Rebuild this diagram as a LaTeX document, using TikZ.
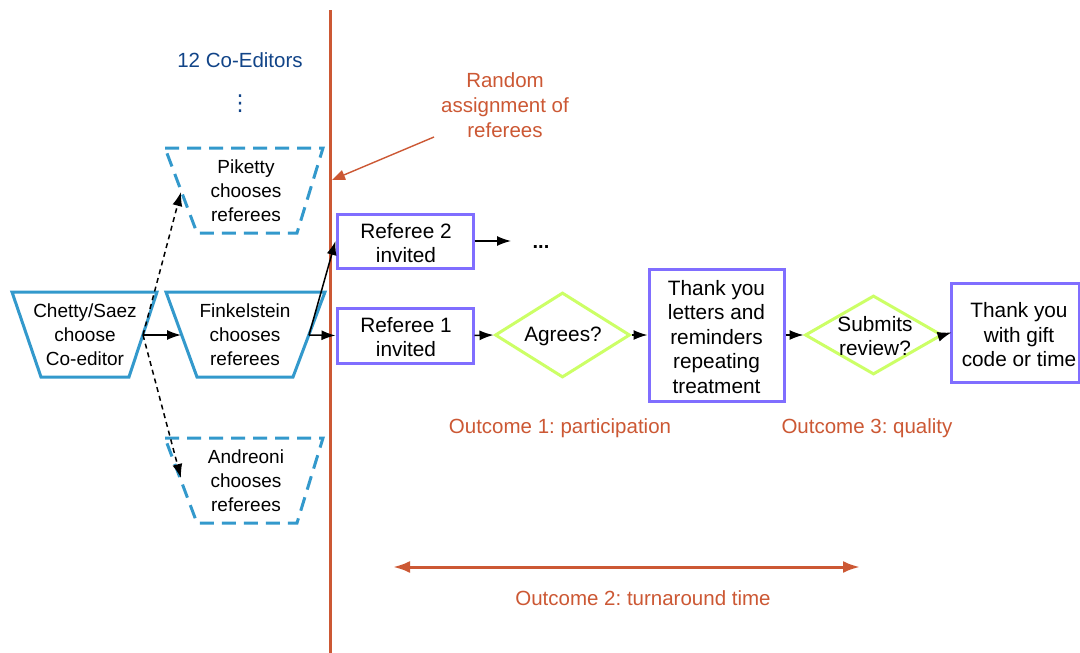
\documentclass[tikz,border=0pt]{standalone}
\usepackage{fontspec}
\setmainfont{Liberation Sans}
\newfontfamily\dejavu{DejaVu Sans}
\frenchspacing
\usetikzlibrary{arrows.meta,shapes.geometric}
\definecolor{tblue}{RGB}{51,153,204}
\definecolor{torange}{RGB}{204,88,52}
\definecolor{tpurple}{RGB}{128,110,255}
\definecolor{tgreen}{RGB}{204,255,102}
\definecolor{tdark}{RGB}{17,68,136}
\tikzset{
  blk/.style={font=\fontsize{19}{24}\selectfont, align=center, inner sep=0pt},
  big/.style={font=\fontsize{20.8}{24.5}\selectfont, align=center, inner sep=0pt},
  otxt/.style={font=\fontsize{20.5}{25}\selectfont, align=center, inner sep=0pt, text=torange},
  trap/.style={draw=tblue, line width=3pt, line join=miter},
  dtrap/.style={trap, dash pattern=on 14pt off 8pt},
  pbox/.style={draw=tpurple, line width=3pt, minimum width=136pt, inner sep=0pt, big},
  dia/.style={draw=tgreen, line width=3pt, diamond, inner sep=0pt, aspect=1},
  arr/.style={line width=1.5pt, -{Latex[length=14pt,width=10pt]}},
  darr/.style={arr, dash pattern=on 5pt off 4pt},
}
\begin{document}
\begin{tikzpicture}[x=1pt,y=-1pt]
\useasboundingbox[fill=white] (0,0) rectangle (1080,653);

% vertical line
\coordinate (vtop) at (330,10);
\coordinate (vbot) at (330,653);
\draw[torange, line width=3pt] (vtop) -- (vbot);

% top texts
\node[otxt, text=tdark] (coeds) at (240,60) {12 Co-Editors};
\node[text=tdark, inner sep=0pt, font=\dejavu\fontsize{22}{22}\selectfont] (vdots) at (240,104) {⋮};
\node[otxt] (random) at (505,105) {Random\\assignment of\\referees};
\coordinate (randA) at (434,137);
\coordinate (hit) at (332,180);
\draw[torange, line width=1.4pt, -{Triangle[length=13pt,width=10pt]}] (randA) -- (hit);

% trapezoids
\draw[trap] (12,292) -- (157,292) -- (129,377) -- (41,377) -- cycle;
\node[blk] (chetty) at (85,335) {Chetty/Saez\\choose\\Co-editor};
\draw[trap] (166,292) -- (325,292) -- (293,377) -- (197,377) -- cycle;
\node[blk] (fink) at (245,335) {Finkelstein\\chooses\\referees};
\draw[dtrap] (165,148) -- (323,148) -- (297,233) -- (197,233) -- cycle;
\node[blk] (piketty) at (246,191) {Piketty\\chooses\\referees};
\draw[dtrap] (165,438) -- (323,438) -- (297,523) -- (197,523) -- cycle;
\node[blk] (andreoni) at (246,481) {Andreoni\\chooses\\referees};

\coordinate (chettyR) at (143,335);
\coordinate (finkL) at (181,335);
\coordinate (finkR) at (309,335);
\coordinate (pikL) at (181,192);
\coordinate (andL) at (181,478);

% boxes
\node[pbox, minimum height=54pt] (ref2) at (405,241) {};
\node[big] (ref2txt) at (406,243) {Referee 2\\invited};
\node[pbox, minimum height=55pt] (ref1) at (405,335.5) {};
\node[big] (ref1txt) at (406,337) {Referee 1\\invited};
\node[pbox, minimum width=135pt, minimum height=132pt] (thanks) at (716.5,335) {};
\node[big] (thankstxt) at (716.5,337) {Thank you\\letters and\\reminders\\repeating\\treatment};
\node[pbox, minimum width=128pt, minimum height=99pt] (gift) at (1015,332.5) {};
\node[big] (gifttxt) at (1019,335) {Thank you\\with gift\\code or time};

\node[dia, minimum width=135pt, minimum height=85pt] (agrees) at (562.5,335) {};
\node[big] (agreestxt) at (563,336) {Agrees?};
\node[dia, minimum width=137pt, minimum height=79pt] (submits) at (873.5,335) {};
\node[big] (submitstxt) at (875,336) {Submits\\review?};

\node[font=\bfseries\fontsize{20}{24}\selectfont, inner sep=0pt] (dots) at (541,247) {...};
\coordinate (dotsin) at (511,241);

% connectors
\draw[arr] (chettyR) -- (finkL);
\draw[darr] (chettyR) -- (pikL);
\draw[darr] (chettyR) -- (andL);
\draw[arr] (finkR) -- (ref1.west);
\draw[arr] (finkR) -- (ref2.west);
\draw[arr] (ref2.east) -- (dotsin);
\draw[arr] (ref1.east) -- (agrees.west);
\draw[arr] (agrees.east) -- (thanks.west);
\draw[arr] (thanks.east) -- (submits.west);
\draw[arr] (submits.east) -- ([xshift=2pt]gift.west);

% outcomes
\node[otxt] (out1) at (560,428) {Outcome 1: participation};
\node[otxt] (out3) at (867,428) {Outcome 3: quality};
\coordinate (ttl) at (393,567);
\coordinate (ttr) at (860,567);
\draw[torange, line width=3pt, {Latex[length=17pt,width=12pt]}-{Latex[length=17pt,width=12pt]}] (ttl) -- (ttr);
\node[otxt] (out2) at (643,598) {Outcome 2: turnaround time};
\end{tikzpicture}
\end{document}
